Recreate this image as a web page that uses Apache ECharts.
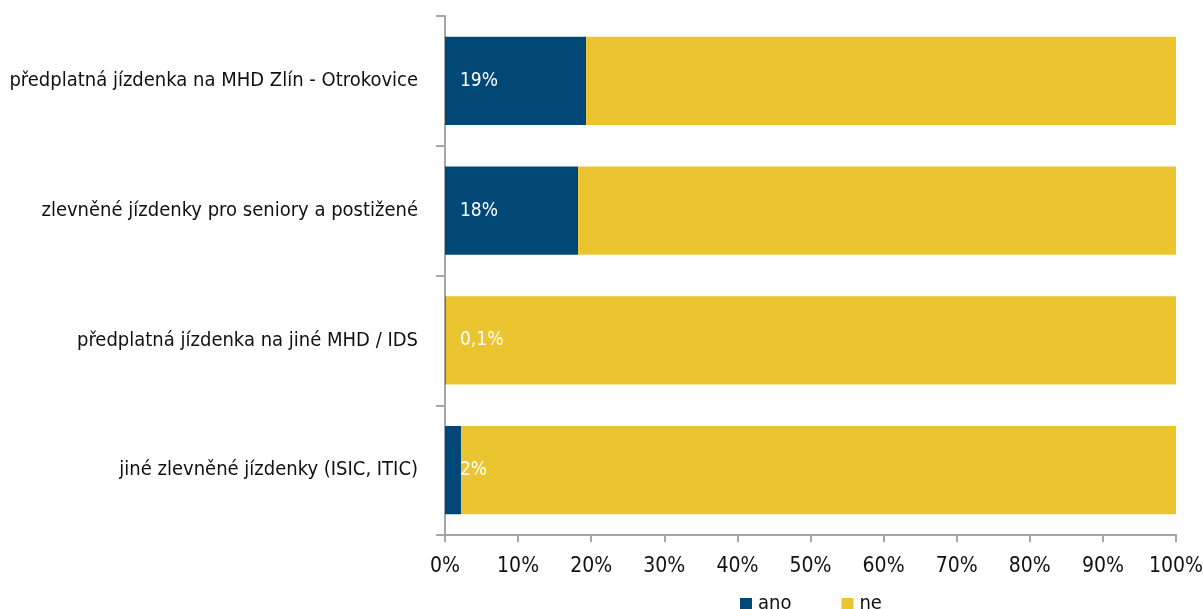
<!DOCTYPE html>
<html>
<head>
<meta charset="utf-8">
<script src="https://cdn.jsdelivr.net/npm/echarts@6/dist/echarts.min.js"></script>
<style>
  html, body { margin: 0; padding: 0; background: #fff; }
  #chart { width: 1203px; height: 609px; }
</style>
</head>
<body>
<div id="chart"></div>
<script>
// kategorie (shora dolu)
var categories = [
  'předplatná jízdenka na MHD Zlín - Otrokovice',
  'zlevněné jízdenky pro seniory a postižené',
  'předplatná jízdenka na jiné MHD / IDS',
  'jiné zlevněné jízdenky (ISIC, ITIC)'
];
var anoValues = [19.3, 18.2, 0.1, 2.2];
var anoLabels = ['19%', '18%', '0,1%', '2%'];
var neValues = [80.7, 81.8, 99.9, 97.8];
var xTicks = [0, 10, 20, 30, 40, 50, 60, 70, 80, 90, 100];

var font = '"DejaVu Sans Condensed", "Liberation Sans Narrow", sans-serif';
var color = ['#014877', '#ebc530'];

var myChart = echarts.init(document.getElementById('chart'));
var option = {
  animation: false,
  color: color,
  textStyle: { fontFamily: font },
  grid: { left: 445, right: 27, top: 16, bottom: 74, containLabel: false, outerBoundsMode: 'none' },
  legend: {
    top: 589,
    left: 735,
    itemWidth: 12,
    itemHeight: 12,
    itemGap: 50,
    icon: 'rect',
    data: ['ano', 'ne'],
    textStyle: { fontFamily: font, fontSize: 20, color: '#111', padding: [0, 0, 0, 1] }
  },
  xAxis: {
    type: 'value',
    min: 0,
    max: 100,
    interval: 10,
    axisLine: { show: true, lineStyle: { color: '#a6a6a6', width: 2 } },
    axisTick: { show: true, length: 7, lineStyle: { color: '#a6a6a6', width: 2 } },
    splitLine: { show: false },
    axisLabel: {
      fontFamily: font, fontSize: 21, color: '#111', margin: 21,
      formatter: function (v) { return xTicks.indexOf(v) >= 0 ? v + '%' : ''; }
    }
  },
  yAxis: {
    type: 'category',
    inverse: true,
    data: categories,
    axisLine: { show: true, lineStyle: { color: '#a6a6a6', width: 2 } },
    axisTick: { show: true, length: 9, lineStyle: { color: '#a6a6a6', width: 2 } },
    axisLabel: { fontFamily: font, fontSize: 20, color: '#111', margin: 27 }
  },
  series: [
    {
      name: 'ano',
      type: 'bar',
      stack: 'total',
      barWidth: '68%',
      data: anoValues,
      label: {
        show: true,
        position: [15, '50%'],
        align: 'left',
        verticalAlign: 'middle',
        color: '#fff',
        fontFamily: font,
        fontSize: 19,
        formatter: function (p) { return anoLabels[p.dataIndex]; }
      }
    },
    {
      name: 'ne',
      type: 'bar',
      stack: 'total',
      barWidth: '68%',
      data: neValues
    }
  ]
};
myChart.setOption(option);
</script>
</body>
</html>
